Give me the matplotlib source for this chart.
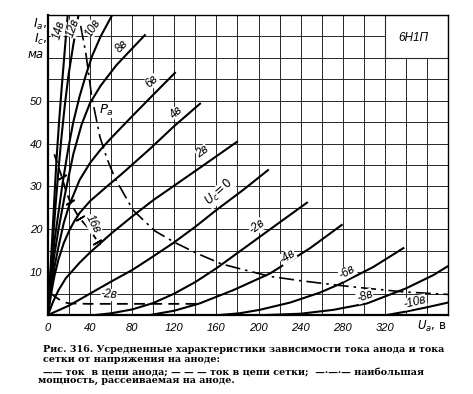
import matplotlib.pyplot as plt
from matplotlib.patches import Rectangle

# anode current Ia (mA) vs anode voltage Ua (V) for each grid voltage
ua_p14 = [0, 2, 4, 6, 8, 10.5, 13, 16, 18.7]
ia_p14 = [0, 9, 18, 27, 36, 45, 53, 62, 70]
ua_p12 = [0, 2, 4, 7, 10, 13, 16, 19.5, 24, 29]
ia_p12 = [0, 8, 15, 25, 34, 42, 49, 56, 63, 70]
ua_p10 = [0, 3, 6, 10, 14, 19, 24, 30, 36, 42, 50, 61]
ia_p10 = [0, 10, 17, 24, 31, 38.5, 45, 51, 56, 60.5, 65, 70]
ua_p8 = [0, 3, 6, 10, 16, 24, 32, 40, 50, 65, 80, 92]
ia_p8 = [0, 8, 14, 20, 28, 37.5, 44.5, 49.5, 53.5, 58.3, 62.2, 65.3]
ua_p6 = [0, 3, 6, 10, 15, 20, 30, 40, 50, 60, 80, 100, 120.6]
ia_p6 = [0, 6, 11, 16, 21.5, 25.5, 31.5, 35.5, 38.6, 41.3, 46.4, 51.4, 56.5]
ua_p4 = [0, 3, 6, 10, 15, 20, 25, 30, 40, 56, 70, 97, 120, 144.4]
ia_p4 = [0, 5, 9, 13, 16.8, 19.6, 21.9, 23.8, 26.6, 30.0, 32.9, 38.8, 44.1, 49.3]
ua_p2 = [0, 5, 10, 17, 30, 40, 60, 80, 100, 120, 144, 179.5]
ia_p2 = [0, 3.2, 5.8, 8.6, 12.2, 14.6, 19, 23, 26.8, 30.2, 34.3, 40.4]
ua_0 = [0, 20, 40, 60, 80, 97, 119, 140, 160, 185.5, 209]
ia_0 = [0, 2.2, 5, 7.8, 10.5, 13.2, 16.8, 20.6, 24.5, 29.2, 33.8]
ua_m2 = [45, 60, 80, 100, 120, 140, 160, 192, 220, 246]
ia_m2 = [0, 0.4, 1.3, 2.8, 5.0, 7.7, 10.9, 16.6, 21.6, 26.2]
ua_m4 = [97, 120, 144, 176, 211, 249, 279]
ia_m4 = [0, 1.0, 2.7, 5.8, 9.7, 15.6, 21]
ua_m6 = [163, 182, 201, 230, 258, 277, 309, 337.6]
ia_m6 = [0, 0.4, 1.2, 2.9, 5.2, 7.2, 11.2, 15.6]
ua_m8 = [208, 240, 271, 303, 340, 366, 380]
ia_m8 = [0, 0.3, 1.2, 2.7, 6.2, 9.3, 11.4]
ua_m10 = [322, 340, 360, 380]
ia_m10 = [0, 0.8, 1.8, 2.9]

# grid current Ic (dashed)
ua_g16 = [6, 10, 13, 17, 21, 26, 30, 40, 49.5]
ic_g16 = [37.5, 34.5, 32.3, 29, 26.4, 24.2, 22.6, 19.8, 16.3]
ua_g2 = [3, 7, 14, 20, 40, 80, 141]
ic_g2 = [5, 4.2, 3.1, 2.7, 2.6, 2.6, 2.6]
g16_ticks_ua = [13, 21, 30, 47]
g16_ticks_ic = [32.3, 26.4, 22.6, 17.0]

# max anode dissipation Pa (dash-dot)
ua_pa = [31, 36, 41.5, 49.4, 56, 63.7, 81, 101.6, 120.6, 141.3, 165, 187, 211,
         240, 277, 300, 337.5, 380]
ia_pa = [67.5, 61, 51, 41.5, 36.5, 31.9, 24.4, 19.6, 16.9, 14.4, 11.9, 10.5,
         9.0, 8.0, 6.9, 6.3, 5.4, 4.8]

anode_curves = [(ua_p14, ia_p14), (ua_p12, ia_p12), (ua_p10, ia_p10),
                (ua_p8, ia_p8), (ua_p6, ia_p6), (ua_p4, ia_p4), (ua_p2, ia_p2),
                (ua_0, ia_0), (ua_m2, ia_m2), (ua_m4, ia_m4), (ua_m6, ia_m6),
                (ua_m8, ia_m8), (ua_m10, ia_m10)]

# curve labels: text, Ua, Ia, rotation
curve_labels = [("14в", 10.4, 66.5, 75), ("12в", 23.8, 67, 70),
                ("10в", 42.5, 67, 58), ("8в", 70.3, 62.6, 46),
                ("6в", 98.8, 54.6, 44), ("4в", 122.6, 47.2, 42),
                ("2в", 147, 38.0, 36), ("$U_c\\!=\\!0$", 163, 28.5, 42),
                ("-2в", 199, 20.6, 38), ("-4в", 227.5, 13.6, 34),
                ("-6в", 284.5, 10.0, 30), ("-8в", 301, 4.4, 20),
                ("-10в", 348.7, 3.0, 14), ("16в", 42.3, 21.2, -62),
                ("-2в", 58, 4.7, -4)]

x_ticks = [0, 40, 80, 120, 160, 200, 240, 280, 320]
y_ticks = [10, 20, 30, 40, 50]

fig = plt.figure(figsize=(4.73, 3.94), dpi=100)
ax = fig.add_axes([48 / 473, 1 - 315 / 394, 400 / 473, 300 / 394])

ax.set_xlim(0, 380)
ax.set_ylim(0, 70)
ax.set_xticks(x_ticks)
ax.set_xticks(range(0, 381, 20), minor=True)
ax.set_yticks(y_ticks)
ax.set_yticks(range(0, 71, 5), minor=True)
ax.grid(which='both', color='#262626', lw=0.7)
ax.set_axisbelow(True)
ax.tick_params(which='both', length=0)
ax.tick_params(axis='x', pad=6)
ax.tick_params(axis='y', pad=4)
for lab in ax.get_xticklabels() + ax.get_yticklabels():
    lab.set_fontstyle('italic')
    lab.set_fontsize(8)
    lab.set_family('Liberation Sans')
for side in ['left', 'bottom']:
    ax.spines[side].set_linewidth(1.6)
for side in ['top', 'right']:
    ax.spines[side].set_linewidth(1.0)

# box with tube type
ax.add_patch(Rectangle((320, 60), 60, 10, facecolor='white', edgecolor='#262626',
                       lw=0.8, zorder=2))
ax.text(347, 64.7, "6Н1П", fontsize=8.5, style='italic', family='Liberation Sans',
        ha='center', va='center', zorder=4)

for ua, ia in anode_curves:
    ax.plot(ua, ia, color='black', lw=1.5, zorder=3, solid_joinstyle='round')

ax.plot(ua_g16, ic_g16, color='black', lw=1.3, ls=(0, (5, 3)), zorder=3)
ax.plot(g16_ticks_ua, g16_ticks_ic, ls='none', marker=(2, 2, -60), ms=7,
        mec='black', mew=1.2, zorder=3)
ax.plot(ua_g2, ic_g2, color='black', lw=1.3, ls=(0, (6, 3.5)), zorder=3)
ax.plot(ua_pa, ia_pa, color='black', lw=1.2, ls=(0, (9, 3, 1.5, 3)), zorder=3)

for txt, x, y, rot in curve_labels:
    ax.text(x, y, txt, fontsize=8.5, style='italic', family='Liberation Sans',
            rotation=rot, rotation_mode='anchor', ha='center', va='center',
            zorder=4, bbox=dict(facecolor='white', edgecolor='none', pad=0.1))
ax.text(56, 47.8, "$P_a$", fontsize=9.5, ha='center', va='center', zorder=4,
        bbox=dict(facecolor='white', edgecolor='none', pad=0.3))

# axis captions
ax.text(-0.5, 67.8, "$I_a$,", fontsize=9, ha='right', va='center', clip_on=False)
ax.text(-0.5, 64.2, "$I_c$,", fontsize=9, ha='right', va='center', clip_on=False)
ax.text(-4.5, 60.9, "ма", fontsize=8.5, style='italic', ha='right', va='center',
        clip_on=False)
ax.text(365, -2.6, "$U_a$, в", fontsize=8.5, ha='center', va='center', clip_on=False)

cap = dict(fontsize=6.9, weight='bold', family='DejaVu Serif', ha='left', va='center')
fig.text(43 / 473, 1 - 350 / 394,
         "Рис. 316. Усредненные характеристики зависимости тока анода и тока", **cap)
fig.text(43 / 473, 1 - 359.5 / 394, "сетки от напряжения на аноде:", **cap)
fig.text(43 / 473, 1 - 372.5 / 394,
         "—— ток  в цепи анода; — — — ток в цепи сетки;  —·—·— наибольшая", **cap)
fig.text(38 / 473, 1 - 380.5 / 394, "мощность, рассеиваемая на аноде.", **cap)

fig.savefig("out.png", dpi=100, facecolor='white')
